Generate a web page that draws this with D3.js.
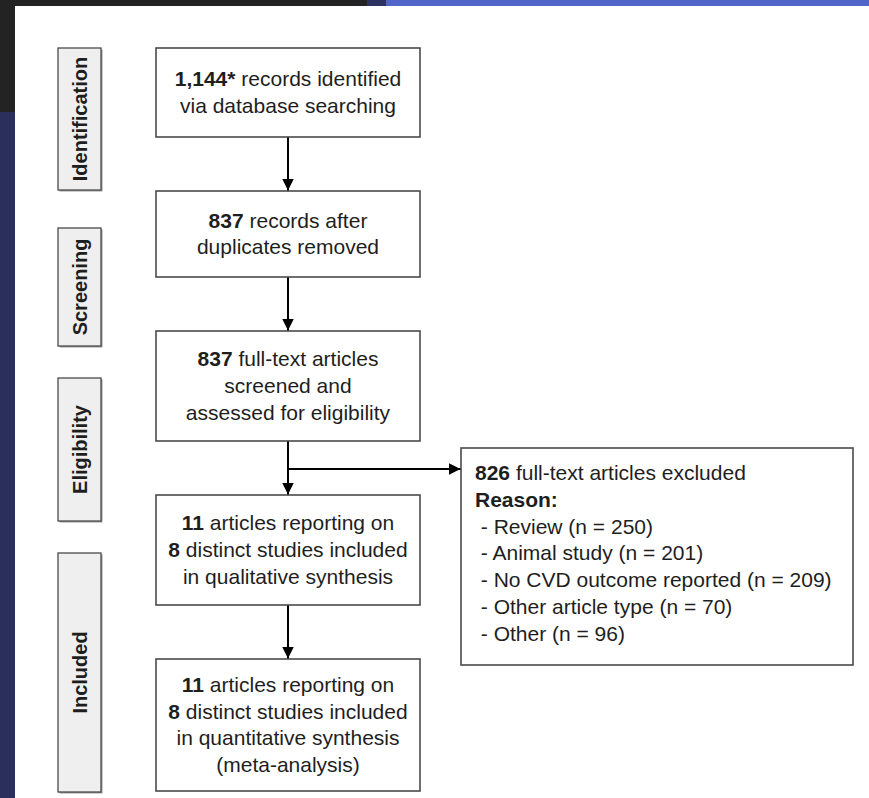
<!DOCTYPE html>
<html><head><meta charset="utf-8">
<script src="https://cdn.jsdelivr.net/npm/d3@7/dist/d3.min.js"></script>
<style>
html,body{margin:0;padding:0;background:#fff;}
svg{display:block;}
</style></head>
<body>
<svg id="chart" width="869" height="798"></svg>
<script>
// ---- data ----
const stages = ["Identification", "Screening", "Eligibility", "Included"];
const recordsIdentified = "1,144*";
const recordsAfterDuplicates = "837";
const fullTextScreened = "837";
const articlesQualitative = "11";
const studiesQualitative = "8";
const articlesQuantitative = "11";
const studiesQuantitative = "8";
const excludedTotal = "826";
const exclusionReasons = ["Review", "Animal study", "No CVD outcome reported", "Other article type", "Other"];
const exclusionCounts = [250, 201, 209, 70, 96];

// box contents: lines of [text, bold] segments
const mainBoxes = [
  [[[recordsIdentified, true], [" records identified", false]], [["via database searching", false]]],
  [[[recordsAfterDuplicates, true], [" records after", false]], [["duplicates removed", false]]],
  [[[fullTextScreened, true], [" full-text articles", false]], [["screened and", false]], [["assessed for eligibility", false]]],
  [[[articlesQualitative, true], [" articles reporting on", false]], [[studiesQualitative, true], [" distinct studies included", false]], [["in qualitative synthesis", false]]],
  [[[articlesQuantitative, true], [" articles reporting on", false]], [[studiesQuantitative, true], [" distinct studies included", false]], [["in quantitative synthesis", false]], [["(meta-analysis)", false]]]
];

// ---- layout ----
const W = 869, H = 798;
const svg = d3.select("#chart");
const font = "'Liberation Sans', Arial, Helvetica, sans-serif";

// background frame
svg.append("rect").attr("x", 0).attr("y", 0).attr("width", W).attr("height", H).attr("fill", "#ffffff");
svg.append("rect").attr("x", 0).attr("y", 0).attr("width", 380).attr("height", 6).attr("fill", "#232323");
svg.append("rect").attr("x", 367).attr("y", 0).attr("width", 20).attr("height", 6).attr("fill", "#2c3262");
svg.append("rect").attr("x", 386).attr("y", 0).attr("width", W - 386).attr("height", 6).attr("fill", "#5164c8");
svg.append("rect").attr("x", 0).attr("y", 0).attr("width", 15).attr("height", 112).attr("fill", "#232323");
svg.append("rect").attr("x", 0).attr("y", 112).attr("width", 15).attr("height", H - 112).attr("fill", "#2a2f5c");

// scales for layout (diagram coordinates)
const x = d3.scaleLinear().domain([0, 1]).range([0, 1]);
const y = d3.scaleLinear().domain([0, 1]).range([0, 1]);

const stageBoxes = [
  {y0: 48, y1: 190},
  {y0: 228, y1: 346},
  {y0: 378, y1: 521},
  {y0: 553, y1: 792}
];
const stageX0 = 58, stageX1 = 101;

const boxX0 = 156, boxX1 = 420;
const mainBoxY = [
  {y0: 48, y1: 137},
  {y0: 191, y1: 277},
  {y0: 331, y1: 441},
  {y0: 495, y1: 605},
  {y0: 659, y1: 791}
];
const exBox = {x0: 461, x1: 853, y0: 448, y1: 665};
const lineH = 26.8;
const fs = 21;

// stage label boxes
const sg = svg.append("g");
stages.forEach((s, i) => {
  const b = stageBoxes[i];
  sg.append("rect").attr("x", x(stageX0) + 1.5).attr("y", y(b.y0) + 1.5)
    .attr("width", stageX1 - stageX0).attr("height", b.y1 - b.y0)
    .attr("fill", "#9a9a9a");
  sg.append("rect").attr("x", x(stageX0)).attr("y", y(b.y0))
    .attr("width", stageX1 - stageX0).attr("height", b.y1 - b.y0)
    .attr("fill", "#efefef").attr("stroke", "#4a4a4a").attr("stroke-width", 1.3);
  const cx = (stageX0 + stageX1) / 2, cy = (b.y0 + b.y1) / 2;
  sg.append("text").attr("transform", `translate(${cx + 7.5},${cy}) rotate(-90)`)
    .attr("text-anchor", "middle").attr("font-family", font).attr("font-weight", "bold")
    .attr("font-size", 20).attr("fill", "#1e1e1e").text(s);
});

// main boxes
const mg = svg.append("g");
function drawLines(g, lines, xPos, yFirst, anchor) {
  lines.forEach((segs, li) => {
    const t = g.append("text").attr("x", xPos).attr("y", yFirst + li * lineH)
      .attr("text-anchor", anchor).attr("font-family", font).attr("font-size", fs).attr("fill", "#1e1e1e")
      .attr("xml:space", "preserve").style("white-space", "pre");
    segs.forEach(([txt, bold]) => {
      t.append("tspan").attr("font-weight", bold ? "bold" : "normal").text(txt);
    });
  });
}
mainBoxes.forEach((lines, i) => {
  const b = mainBoxY[i];
  mg.append("rect").attr("x", x(boxX0)).attr("y", y(b.y0))
    .attr("width", boxX1 - boxX0).attr("height", b.y1 - b.y0)
    .attr("fill", "#ffffff").attr("stroke", "#4a4a4a").attr("stroke-width", 1.6);
  const cy = (b.y0 + b.y1) / 2;
  const first = cy - (lines.length - 1) * lineH / 2 + fs * 0.33;
  drawLines(mg, lines, (boxX0 + boxX1) / 2, first, "middle");
});

// exclusion box
const eg = svg.append("g");
eg.append("rect").attr("x", exBox.x0).attr("y", exBox.y0)
  .attr("width", exBox.x1 - exBox.x0).attr("height", exBox.y1 - exBox.y0)
  .attr("fill", "#ffffff").attr("stroke", "#4a4a4a").attr("stroke-width", 1.6);
const exLines = [
  [[excludedTotal, true], [" full-text articles excluded", false]],
  [["Reason:", true]]
].concat(exclusionReasons.map((r, i) => [[` - ${r} (n = ${exclusionCounts[i]})`, false]]));
drawLines(eg, exLines, 475, 480, "start");

// arrows
const defs = svg.append("defs");
defs.append("marker").attr("id", "arr").attr("viewBox", "0 0 10 10").attr("refX", 10).attr("refY", 5)
  .attr("markerWidth", 6).attr("markerHeight", 6).attr("markerUnits", "strokeWidth").attr("orient", "auto")
  .append("path").attr("d", "M0,0 L10,5 L0,10 Z").attr("fill", "#000");

const ag = svg.append("g").attr("stroke", "#000").attr("stroke-width", 2);
const cxm = (boxX0 + boxX1) / 2;
for (let i = 0; i < mainBoxY.length - 1; i++) {
  ag.append("line").attr("x1", cxm).attr("y1", mainBoxY[i].y1 + 0.5)
    .attr("x2", cxm).attr("y2", mainBoxY[i + 1].y0 - 0.5).attr("marker-end", "url(#arr)");
}
const branchY = 469;
ag.append("line").attr("x1", cxm - 1).attr("y1", branchY).attr("x2", exBox.x0 - 0.5).attr("y2", branchY)
  .attr("marker-end", "url(#arr)");
</script>
</body></html>
